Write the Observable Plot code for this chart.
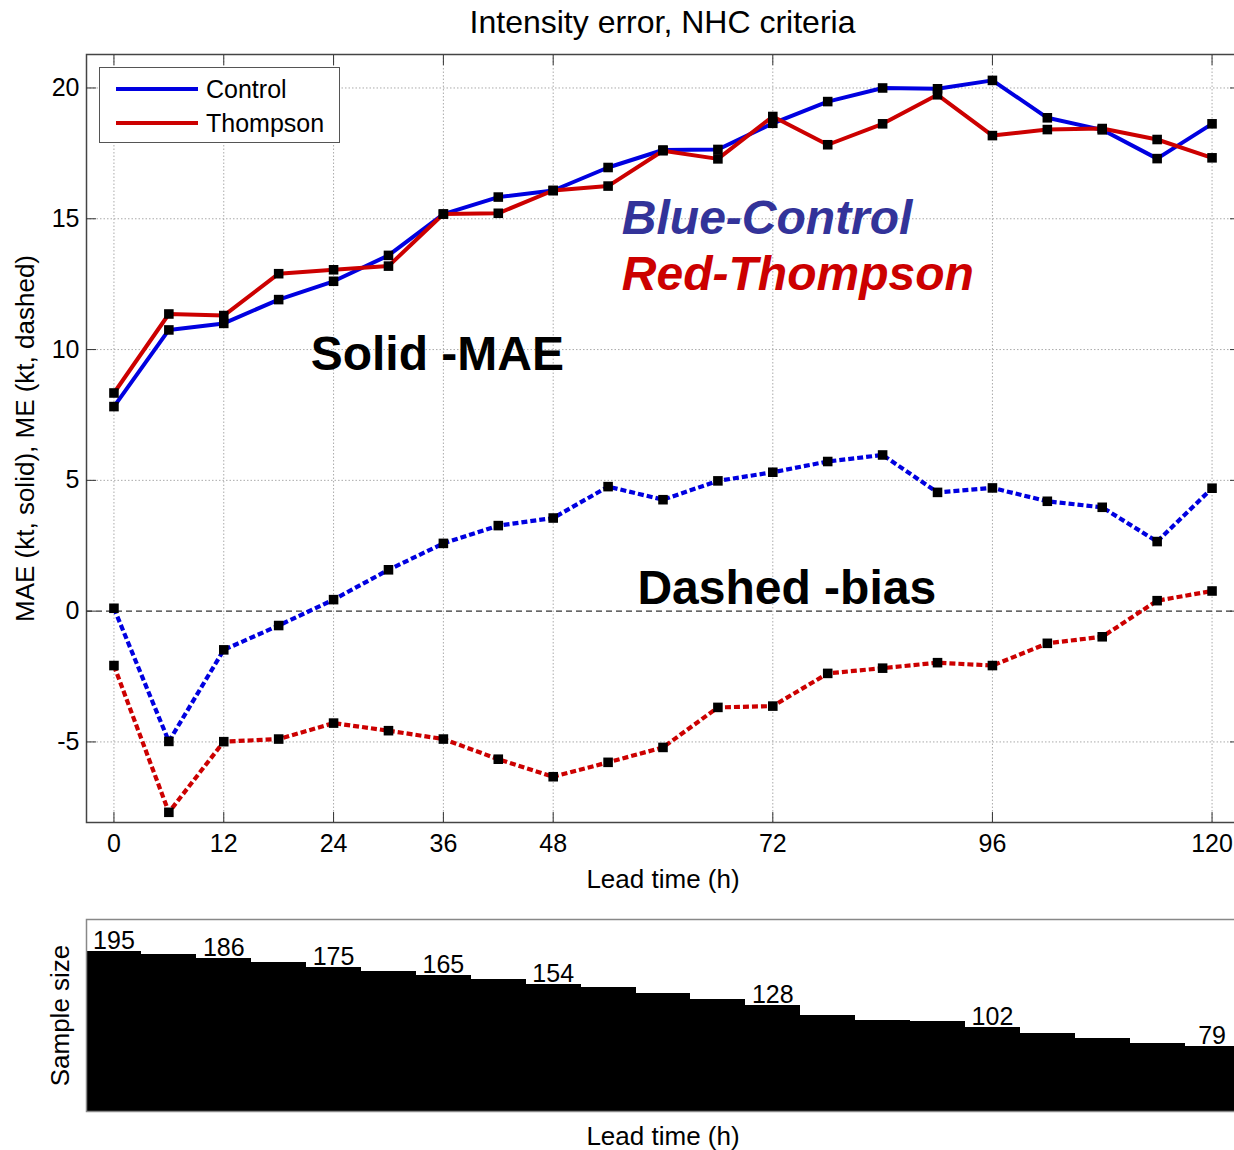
<!DOCTYPE html>
<html>
<head>
<meta charset="utf-8">
<script src="https://cdn.jsdelivr.net/npm/d3@7"></script>
<script src="https://cdn.jsdelivr.net/npm/@observablehq/plot@0.6"></script>
<style>
html, body { margin: 0; padding: 0; background: #fff; overflow: hidden; width: 1234px; height: 1150px; }
#wrap { position: relative; width: 1234px; height: 1150px; overflow: hidden; font-family: "Liberation Sans", Arial, sans-serif; color: #000; }
#wrap svg { max-width: none !important; }
#title { position: absolute; left: 86px; width: 1153px; top: 3px; text-align: center; font-size: 32px; line-height: 38px; }
#main { position: absolute; left: 0; top: 40px; width: 1240px; }
#bottom { position: absolute; left: 0; top: 900px; width: 1240px; }
#legend { position: absolute; left: 99px; top: 67px; width: 241px; height: 76px; box-sizing: border-box; border: 1.5px solid #555; background: #fff; }
.lg-line { position: absolute; left: 16px; width: 82px; height: 4px; }
.lg-text { position: absolute; left: 106px; font-size: 25px; line-height: 30px; }
</style>
</head>
<body>
<div id="wrap">
  <div id="title"></div>
  <div id="main"></div>
  <div id="bottom"></div>
  <div id="legend"></div>
</div>
<script>
// ---- data ----
const leadTimes = [0, 6, 12, 18, 24, 30, 36, 42, 48, 54, 60, 66, 72, 78, 84, 90, 96, 102, 108, 114, 120];
const seriesNames = ["Control", "Thompson"];
const controlMAE   = [7.82, 10.75, 11.0, 11.91, 12.61, 13.6, 15.18, 15.83, 16.08, 16.96, 17.63, 17.65, 18.65, 19.48, 20.0, 19.97, 20.29, 18.86, 18.4, 17.3, 18.63];
const thompsonMAE  = [8.34, 11.36, 11.3, 12.9, 13.05, 13.19, 15.18, 15.21, 16.08, 16.25, 17.6, 17.29, 18.91, 17.83, 18.63, 19.74, 18.18, 18.41, 18.45, 18.03, 17.33];
const controlBias  = [0.11, -4.98, -1.48, -0.55, 0.44, 1.58, 2.59, 3.27, 3.56, 4.76, 4.26, 4.98, 5.31, 5.72, 5.97, 4.54, 4.71, 4.2, 3.97, 2.66, 4.7];
const thompsonBias = [-2.08, -7.69, -4.99, -4.89, -4.28, -4.57, -4.89, -5.66, -6.33, -5.78, -5.21, -3.68, -3.63, -2.38, -2.18, -1.97, -2.08, -1.23, -0.98, 0.40, 0.77];
const sampleSize   = [195, 191, 186, 181, 175, 170, 165, 160, 154, 150, 143, 136, 128, 117, 110, 109, 102, 95, 88, 82, 79];
const labeledTimes = [0, 12, 24, 36, 48, 72, 96, 120];
const xTicks = [0, 12, 24, 36, 48, 72, 96, 120];
const yTicks = [-5, 0, 5, 10, 15, 20];
const titleText = "Intensity error, NHC criteria";
const xLabel = "Lead time (h)";
const yLabel = "MAE (kt, solid), ME (kt, dashed)";
const sampleLabel = "Sample size";
const annotations = [
  {text: "Blue-Control", h: 55.5, v: 14.4, kind: "blue"},
  {text: "Red-Thompson", h: 55.5, v: 12.27, kind: "red"},
  {text: "Solid -MAE", h: 21.5, v: 9.2, kind: "plain"},
  {text: "Dashed -bias", h: 57.2, v: 0.26, kind: "plain"}
];

// ---- build tidy tables ----
const colors = {Control: "#0000e0", Thompson: "#cc0000"};
const mae = [], bias = [];
leadTimes.forEach((h, i) => {
  mae.push({h, v: controlMAE[i], series: "Control"});
  mae.push({h, v: thompsonMAE[i], series: "Thompson"});
  bias.push({h, v: controlBias[i], series: "Control"});
  bias.push({h, v: thompsonBias[i], series: "Thompson"});
});
const samples = leadTimes.map((h, i) => ({h, n: sampleSize[i]}));
const font = '"Liberation Sans", Arial, sans-serif';
document.getElementById("title").textContent = titleText;

const mainPlot = Plot.plot({
  width: 1240, height: 860,
  marginLeft: 86, marginRight: 1, marginTop: 14, marginBottom: 78,
  x: {domain: [-3, 123]},
  y: {domain: [-8.08, 21.28]},
  color: {domain: seriesNames, range: seriesNames.map(s => colors[s])},
  style: {fontFamily: font, fontSize: "25px", color: "#000", background: "transparent", overflow: "visible"},
  marks: [
    Plot.gridX({ticks: xTicks, stroke: "#aaa", strokeOpacity: 1, strokeDasharray: "1.5,2"}),
    Plot.gridY({ticks: yTicks.filter(v => v !== 0), stroke: "#aaa", strokeOpacity: 1, strokeDasharray: "1.5,2"}),
    Plot.ruleY([0], {stroke: "#333", strokeWidth: 1.3, strokeDasharray: "6,4"}),
    Plot.line(mae, {x: "h", y: "v", z: "series", stroke: "series", strokeWidth: 4}),
    Plot.line(bias, {x: "h", y: "v", z: "series", stroke: "series", strokeWidth: 4.2, strokeDasharray: "6,3", strokeLinecap: "butt", strokeLinejoin: "miter"}),
    Plot.dot(mae, {x: "h", y: "v", symbol: "square", r: 5.4, fill: "black", stroke: "none"}),
    Plot.dot(bias, {x: "h", y: "v", symbol: "square", r: 5.4, fill: "black", stroke: "none"}),
    Plot.frame({stroke: "#444", strokeWidth: 1.5}),
    Plot.axisX({ticks: xTicks, anchor: "bottom", tickSize: -10, tickPadding: 22, label: null, stroke: "#333"}),
    Plot.axisX({ticks: xTicks, anchor: "top", tickSize: -10, tickFormat: () => "", label: null, stroke: "#333"}),
    Plot.axisY({ticks: yTicks, anchor: "left", tickSize: -10, tickPadding: 17, tickFormat: d => String(d), label: null, stroke: "#333"}),
    Plot.axisY({ticks: yTicks, anchor: "right", tickSize: -10, tickFormat: () => "", label: null, stroke: "#333"}),
    Plot.text([xLabel], {frameAnchor: "bottom", textAnchor: "middle", lineAnchor: "middle", dy: 57, fontSize: 26, text: d => d}),
    Plot.text([yLabel], {frameAnchor: "left", textAnchor: "middle", lineAnchor: "middle", rotate: -90, dx: -61, fontSize: 26, text: d => d}),
    Plot.text(annotations.filter(a => a.kind === "blue"), {x: "h", y: "v", text: "text", textAnchor: "start", lineAnchor: "bottom", fontSize: 48, fontWeight: "bold", fontStyle: "italic", fill: "#333399"}),
    Plot.text(annotations.filter(a => a.kind === "red"), {x: "h", y: "v", text: "text", textAnchor: "start", lineAnchor: "bottom", fontSize: 48, fontWeight: "bold", fontStyle: "italic", fill: "#cc0000"}),
    Plot.text(annotations.filter(a => a.kind === "plain"), {x: "h", y: "v", text: "text", textAnchor: "start", lineAnchor: "bottom", fontSize: 48, fontWeight: "bold", fill: "#000"})
  ]
});
document.getElementById("main").appendChild(mainPlot);

const bottomPlot = Plot.plot({
  width: 1240, height: 250,
  marginLeft: 86, marginRight: 1, marginTop: 19, marginBottom: 39,
  x: {domain: [-3, 123], axis: null},
  y: {domain: [0, 234], axis: null},
  style: {fontFamily: font, fontSize: "25px", color: "#000", background: "transparent", overflow: "visible"},
  marks: [
    Plot.rect(samples, {x1: d => d.h - 3, x2: d => d.h + 3, y1: 0, y2: "n", fill: "black", stroke: "black", strokeWidth: 1, shapeRendering: "crispEdges"}),
    Plot.frame({stroke: "#888", strokeWidth: 1.5}),
    Plot.text(samples.filter(d => labeledTimes.includes(d.h)), {x: "h", y: "n", text: d => String(d.n), lineAnchor: "bottom", dy: -3, fontSize: 25}),
    Plot.text([sampleLabel], {frameAnchor: "left", textAnchor: "middle", lineAnchor: "middle", rotate: -90, dx: -26, fontSize: 26, text: d => d}),
    Plot.text([xLabel], {frameAnchor: "bottom", textAnchor: "middle", lineAnchor: "middle", dy: 25, fontSize: 26, text: d => d})
  ]
});
document.getElementById("bottom").appendChild(bottomPlot);

// legend
const legend = document.getElementById("legend");
seriesNames.forEach((s, i) => {
  const line = document.createElement("div");
  line.className = "lg-line";
  line.style.top = (19 + i * 34) + "px";
  line.style.background = colors[s];
  legend.appendChild(line);
  const t = document.createElement("div");
  t.className = "lg-text";
  t.style.top = (6 + i * 34) + "px";
  t.textContent = s;
  legend.appendChild(t);
});
</script>
</body>
</html>
